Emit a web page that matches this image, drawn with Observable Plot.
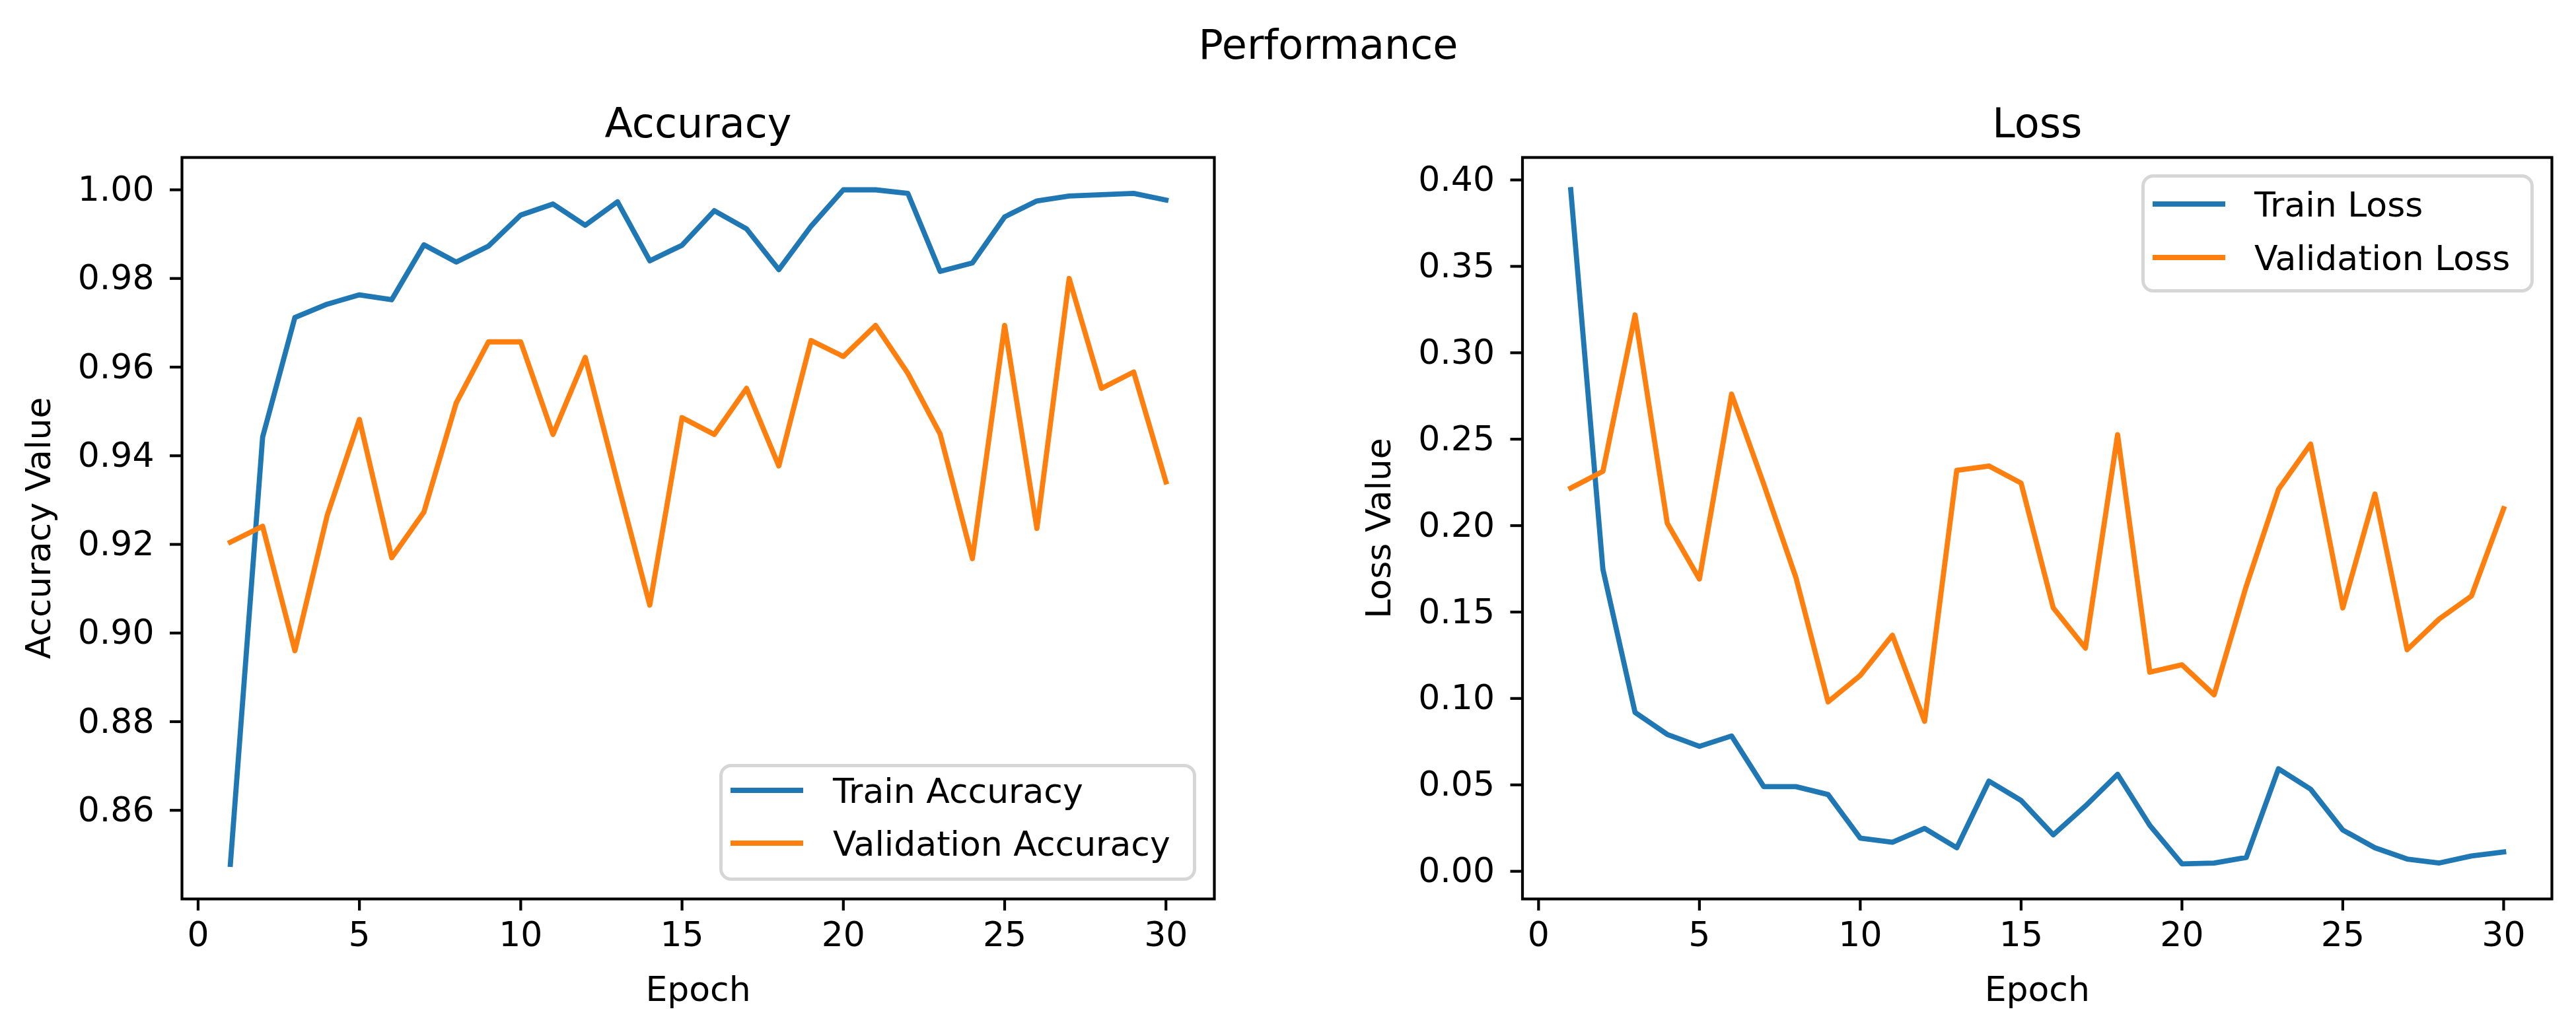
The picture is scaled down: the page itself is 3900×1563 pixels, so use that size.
<!DOCTYPE html>
<html>
<head>
<meta charset="utf-8">
<script src="https://cdn.jsdelivr.net/npm/d3@7"></script>
<script src="https://cdn.jsdelivr.net/npm/@observablehq/plot@0.6"></script>
<style>
html,body{margin:0;padding:0;background:#fff;}
#fig{position:relative;width:3900px;height:1563px;background:#fff;font-family:"DejaVu Sans",sans-serif;color:#000;overflow:hidden;}
#fig svg{position:absolute;top:0;}
.sup{position:absolute;font-size:62px;line-height:62px;white-space:nowrap;transform:translateX(-50%);}
.legend{position:absolute;border:5px solid #d6d6d6;border-radius:18px;background:rgba(255,255,255,0.85);box-sizing:border-box;}
.sw{position:absolute;height:8px;}
.lt{position:absolute;font-size:52px;line-height:52px;white-space:nowrap;}
</style>
</head>
<body>
<div id="fig"></div>
<script>
// ---- data ----
const epochs = [1,2,3,4,5,6,7,8,9,10,11,12,13,14,15,16,17,18,19,20,21,22,23,24,25,26,27,28,29,30];
const trainAcc = [0.8478,0.9442,0.9712,0.9742,0.9763,0.9752,0.9876,0.9837,0.9873,0.9943,0.9968,0.9920,0.9973,0.9840,0.9875,0.9953,0.9912,0.9820,0.9918,1.0000,1.0000,0.9992,0.9816,0.9835,0.9939,0.9975,0.9986,0.9989,0.9992,0.9977];
const valAcc = [0.9205,0.9241,0.8960,0.9265,0.9482,0.9170,0.9273,0.9519,0.9657,0.9657,0.9448,0.9622,0.9340,0.9063,0.9486,0.9448,0.9552,0.9377,0.9660,0.9624,0.9694,0.9586,0.9449,0.9168,0.9694,0.9236,0.9800,0.9552,0.9589,0.9341];
const trainLoss = [0.3944,0.1748,0.0919,0.0792,0.0723,0.0783,0.0490,0.0490,0.0444,0.0192,0.0168,0.0248,0.0136,0.0522,0.0410,0.0211,0.0378,0.0561,0.0266,0.0043,0.0048,0.0080,0.0593,0.0475,0.0239,0.0136,0.0071,0.0048,0.0089,0.0112];
const valLoss = [0.2217,0.2314,0.3219,0.2014,0.1691,0.2761,0.2240,0.1700,0.0980,0.1133,0.1366,0.0868,0.2320,0.2345,0.2246,0.1524,0.1291,0.2526,0.1152,0.1195,0.1021,0.1650,0.2209,0.2472,0.1524,0.2183,0.1282,0.1460,0.1593,0.2098];
const epochTicks = [0,5,10,15,20,25,30];
const accTicks = [0.86,0.88,0.90,0.92,0.94,0.96,0.98,1.00];
const lossTicks = [0.00,0.05,0.10,0.15,0.20,0.25,0.30,0.35,0.40];
const seriesNames = {trainAcc:"Train Accuracy", valAcc:"Validation Accuracy", trainLoss:"Train Loss", valLoss:"Validation Loss"};
const BLUE = "#1f77b4", ORANGE = "#ff7f0e";

const accRows = epochs.map((e,i)=>({epoch:e, train:trainAcc[i], val:valAcc[i]}));
const lossRows = epochs.map((e,i)=>({epoch:e, train:trainLoss[i], val:valLoss[i]}));

function panel({rows, yDomain, yTicks, title, ylabel, marginLeft, marginRight}) {
  return Plot.plot({
    width: 1950, height: 1563,
    marginLeft, marginRight, marginTop: 238, marginBottom: 202,
    style: {fontFamily: "DejaVu Sans, sans-serif", fontSize: "52px", color: "#000", background: "transparent", overflow: "visible"},
    x: {domain: [-0.5, 31.5]},
    y: {domain: yDomain},
    marks: [
      Plot.axisX({ticks: epochTicks, tickFormat: d => String(d), tickSize: 18, tickPadding: 17, strokeWidth: 4.2, fontSize: 52, label: null}),
      Plot.axisY({ticks: yTicks, tickFormat: d3.format(".2f"), tickSize: 18, tickPadding: 24, strokeWidth: 4.2, fontSize: 52, label: null}),
      Plot.line(rows, {x: "epoch", y: "train", stroke: BLUE, strokeWidth: 7.8, strokeLinejoin: "round", strokeLinecap: "square"}),
      Plot.line(rows, {x: "epoch", y: "val", stroke: ORANGE, strokeWidth: 7.8, strokeLinejoin: "round", strokeLinecap: "square"}),
      Plot.frame({stroke: "#000", strokeWidth: 4.2}),
      Plot.text([title], {text: d => d, frameAnchor: "top", lineAnchor: "bottom", dy: -31, fontSize: 62, fill: "#000"}),
      Plot.text(["Epoch"], {text: d => d, frameAnchor: "bottom", lineAnchor: "bottom", dy: 154, fontSize: 52, fill: "#000"}),
      Plot.text([ylabel], {text: d => d, frameAnchor: "left", textAnchor: "middle", lineAnchor: "bottom", rotate: -90, dx: -200, fontSize: 52, fill: "#000"})
    ]
  });
}

const fig = document.getElementById("fig");

const acc = panel({rows: accRows, yDomain: [0.8400, 1.0073], yTicks: accTicks, title: "Accuracy", ylabel: "Accuracy Value", marginLeft: 275, marginRight: 112});
acc.style.left = "0px";
fig.appendChild(acc);

const loss = panel({rows: lossRows, yDomain: [-0.0160, 0.4130], yTicks: lossTicks, title: "Loss", ylabel: "Loss Value", marginLeft: 354.5, marginRight: 37});
loss.style.left = "1950px";
fig.appendChild(loss);

// suptitle
const sup = document.createElement("div");
sup.className = "sup";
sup.textContent = "Performance";
sup.style.left = "2011px";
sup.style.top = "37px";
fig.appendChild(sup);

// legends
function legend(box, swLeft, swWidth, textLeft, entries) {
  const b = document.createElement("div");
  b.className = "legend";
  Object.assign(b.style, {left: box[0] + "px", top: box[1] + "px", width: box[2] + "px", height: box[3] + "px"});
  fig.appendChild(b);
  for (const [label, color, y] of entries) {
    const s = document.createElement("div");
    s.className = "sw";
    Object.assign(s.style, {left: swLeft + "px", top: (y - 4) + "px", width: swWidth + "px", background: color});
    fig.appendChild(s);
    const t = document.createElement("div");
    t.className = "lt";
    t.textContent = label;
    Object.assign(t.style, {left: textLeft + "px", top: (y - 25) + "px"});
    fig.appendChild(t);
  }
}
legend([1089, 1157, 722, 177], 1106, 110, 1261, [[seriesNames.trainAcc, BLUE, 1197], [seriesNames.valAcc, ORANGE, 1277]]);
legend([3242, 264, 594, 179], 3259, 110, 3413, [[seriesNames.trainLoss, BLUE, 309], [seriesNames.valLoss, ORANGE, 390]]);
</script>
</body>
</html>
